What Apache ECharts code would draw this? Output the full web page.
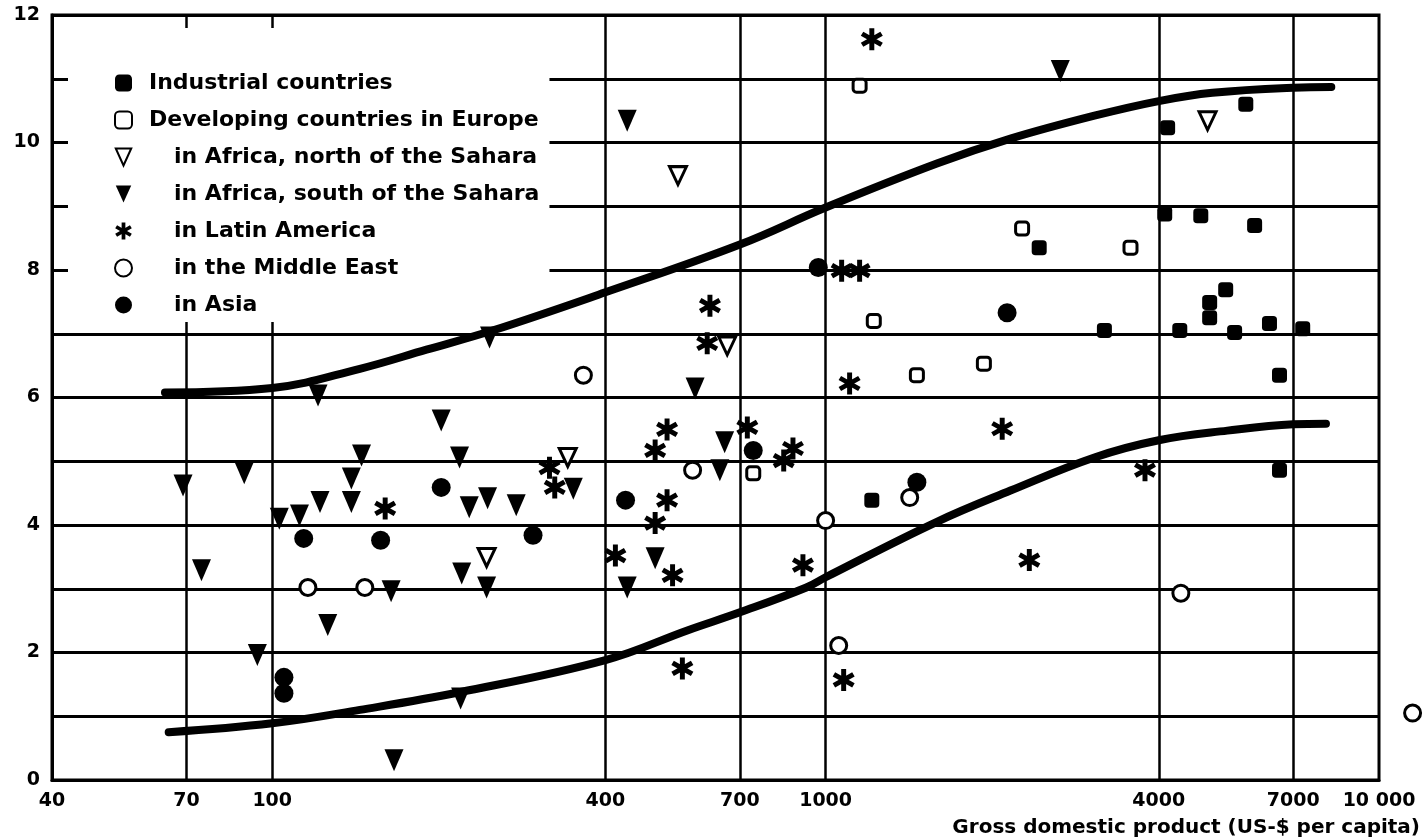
<!DOCTYPE html>
<html>
<head>
<meta charset="utf-8">
<title>Savings vs GDP per capita</title>
<script src="https://cdn.jsdelivr.net/npm/echarts@6/dist/echarts.min.js"></script>
<style>
  html, body { margin: 0; padding: 0; background: #fff; }
  #chart { width: 1425px; height: 840px; }
</style>
</head>
<body>
<div id="chart"></div>
<script>
// axis ticks
const xTickValues = [70, 100, 400, 700, 1000, 4000, 7000];
const xLabelValues = [40, 70, 100, 400, 700, 1000, 4000, 7000, 10000];
const yLabelValues = [0, 2, 4, 6, 8, 10, 12];

// [GDP per capita, value]
const industrial = [[5745, 10.6], [4150, 10.23], [4100, 8.88], [4764, 8.85], [5960, 8.7], [2432, 8.35],
  [5284, 7.69], [4943, 7.49], [4943, 7.25], [3190, 7.05], [4365, 7.05], [5484, 7.02], [6340, 7.16],
  [7280, 7.08], [6610, 6.35], [6610, 4.86], [1212, 4.39]];
const europe = [[1152, 10.89], [1222, 7.2], [1462, 6.35], [2265, 8.65], [3556, 8.35], [1932, 6.53], [740, 4.81]];
const africaNorth = [[541, 9.48], [4900, 10.34], [664, 6.81], [342, 5.06], [244, 3.49]];
const africaSouth = [[438, 10.34], [2655, 11.12], [121, 6.03], [202, 5.64], [145, 5.09], [218, 5.06],
  [139, 4.73], [89, 4.81], [69, 4.62], [122, 4.36], [139, 4.36], [103, 4.1], [112, 4.15], [227, 4.28],
  [245, 4.42], [276, 4.31], [74.5, 3.29], [164, 2.96], [126, 2.43], [94, 1.96], [166, 0.31], [219, 1.28],
  [220, 3.24], [244, 3.02], [350, 4.57], [438, 3.02], [492, 3.48], [581, 6.14], [657, 5.3], [644, 4.86],
  [247, 6.94]];
const latinAmerica = [[1212, 11.62], [1069, 7.99], [1152, 7.99], [618, 7.44], [611, 6.85], [1105, 6.22],
  [517, 5.5], [492, 5.17], [722, 5.53], [873, 5.2], [840, 5.01], [317, 4.9], [324, 4.59], [517, 4.39],
  [492, 4.03], [417, 3.52], [529, 3.21], [910, 3.37], [160, 4.26], [2085, 5.51], [3777, 4.86],
  [2334, 3.45], [551, 1.75], [1078, 1.57]];
const middleEast = [[365, 6.35], [575, 4.86], [1419, 4.43], [1000, 4.07], [116, 3.02], [147, 3.02],
  [1056, 2.11], [4385, 2.93], [11500, 1.05]];
const asia = [[970, 8.04], [2128, 7.33], [296, 3.84], [435, 4.39], [740, 5.17], [1462, 4.67], [114, 3.79],
  [157, 3.76], [202, 4.59], [105, 1.61], [105, 1.36]];

// hand drawn envelope curves
const upperCurve = [[64, 6.08], [100, 6.15], [144, 6.45], [190, 6.75], [250, 7.05], [400, 7.65], [700, 8.4],
  [1000, 8.98], [1589, 9.67], [2158, 10.06], [3060, 10.42], [4000, 10.65], [5000, 10.78], [7000, 10.86],
  [8200, 10.87]];
const lowerCurve = [[65, 0.75], [100, 0.89], [144, 1.1], [219, 1.38], [400, 1.88], [564, 2.35], [700, 2.63],
  [923, 3.02], [1000, 3.18], [1589, 4.05], [2158, 4.54], [3060, 5.06], [4000, 5.33], [5321, 5.48],
  [7000, 5.58], [8020, 5.59]];

const ink = '#000';
const font = 'DejaVu Sans';
const asterisk = 'path://M7.8 20L12.2 20L12.2 0L7.8 0Z M17.56 16.9L19.76 13.1L2.44 3.1L0.24 6.9Z M0.24 13.1L2.44 16.9L19.76 6.9L17.56 3.1Z';
const downTri = 'path://M0 0L20 0L10 22Z';
const indented = ['in Africa, north of the Sahara', 'in Africa, south of the Sahara',
  'in Latin America', 'in the Middle East', 'in Asia'];

function scatter(name, data, symbol, size, hollow) {
  return {
    name: name,
    type: 'scatter',
    data: data,
    symbol: symbol,
    symbolSize: size,
    clip: false,
    z: 3,
    itemStyle: hollow
      ? {color: '#fff', borderColor: ink, borderWidth: 3, opacity: 1}
      : {color: ink, opacity: 1},
    emphasis: {disabled: true}
  };
}

function curve(name, data) {
  return {
    name: name,
    type: 'line',
    data: data,
    smooth: 0.4,
    symbol: 'none',
    silent: true,
    z: 2,
    lineStyle: {color: ink, width: 8, cap: 'round'}
  };
}

const chart = echarts.init(document.getElementById('chart'));

const option = {
  animation: false,
  backgroundColor: '#fff',
  grid: {
    left: 52,
    right: 46,
    top: 15,
    bottom: 60,
    show: true,
    borderColor: ink,
    borderWidth: 3
  },
  legend: {
    data: ['Industrial countries', 'Developing countries in Europe', 'in Africa, north of the Sahara',
      'in Africa, south of the Sahara', 'in Latin America', 'in the Middle East', 'in Asia'],
    orient: 'vertical',
    left: 68,
    top: 28,
    z: 1,
    padding: [44, 10, 6, 46],
    backgroundColor: '#fff',
    itemWidth: 17,
    itemHeight: 17,
    itemGap: 15,
    selectedMode: false,
    formatter: function (name) {
      return (indented.indexOf(name) >= 0 ? '{b|' : '{a|') + name + '}';
    },
    textStyle: {
      color: ink,
      fontFamily: font,
      fontWeight: 'bold',
      fontSize: 22,
      lineHeight: 16,
      rich: {
        a: {fontFamily: font, fontWeight: 'bold', fontSize: 22, lineHeight: 16, padding: [0, 0, 0, 12]},
        b: {fontFamily: font, fontWeight: 'bold', fontSize: 22, lineHeight: 16, padding: [0, 0, 0, 37]}
      }
    }
  },
  xAxis: {
    type: 'log',
    logBase: 10,
    min: 40,
    max: 10000,
    axisLine: {show: true, lineStyle: {color: ink, width: 3}},
    axisTick: {show: false, customValues: xTickValues},
    splitLine: {show: true, lineStyle: {color: ink, width: 2.5}},
    axisLabel: {
      customValues: xLabelValues,
      formatter: function (v) { return v === 10000 ? '10 000' : String(v); },
      color: ink,
      fontFamily: font,
      fontWeight: 'bold',
      fontSize: 19,
      margin: 12
    },
    name: 'Gross domestic product (US-$ per capita)',
    nameLocation: 'end',
    nameGap: 41,
    nameTextStyle: {
      color: ink,
      fontFamily: font,
      fontWeight: 'bold',
      fontSize: 20,
      align: 'right',
      verticalAlign: 'top',
      padding: [38, 0, 0, 0]
    }
  },
  yAxis: {
    type: 'value',
    min: 0,
    max: 12,
    interval: 1,
    axisLine: {show: true, lineStyle: {color: ink, width: 3}},
    axisTick: {show: false},
    splitLine: {show: true, lineStyle: {color: ink, width: 3}},
    axisLabel: {
      customValues: yLabelValues,
      color: ink,
      fontFamily: font,
      fontWeight: 'bold',
      fontSize: 19,
      margin: 12
    }
  },
  series: [
    curve('upper bound', upperCurve),
    curve('lower bound', lowerCurve),
    scatter('Industrial countries', industrial, 'roundRect', 15, false),
    scatter('Developing countries in Europe', europe, 'roundRect', 13, true),
    scatter('in Africa, north of the Sahara', africaNorth, downTri, [17, 18], true),
    scatter('in Africa, south of the Sahara', africaSouth, downTri, [19, 22], false),
    scatter('in Latin America', latinAmerica, asterisk, 22, false),
    scatter('in the Middle East', middleEast, 'circle', 16, true),
    scatter('in Asia', asia, 'circle', 19, false)
  ]
};

chart.setOption(option);
</script>
</body>
</html>
